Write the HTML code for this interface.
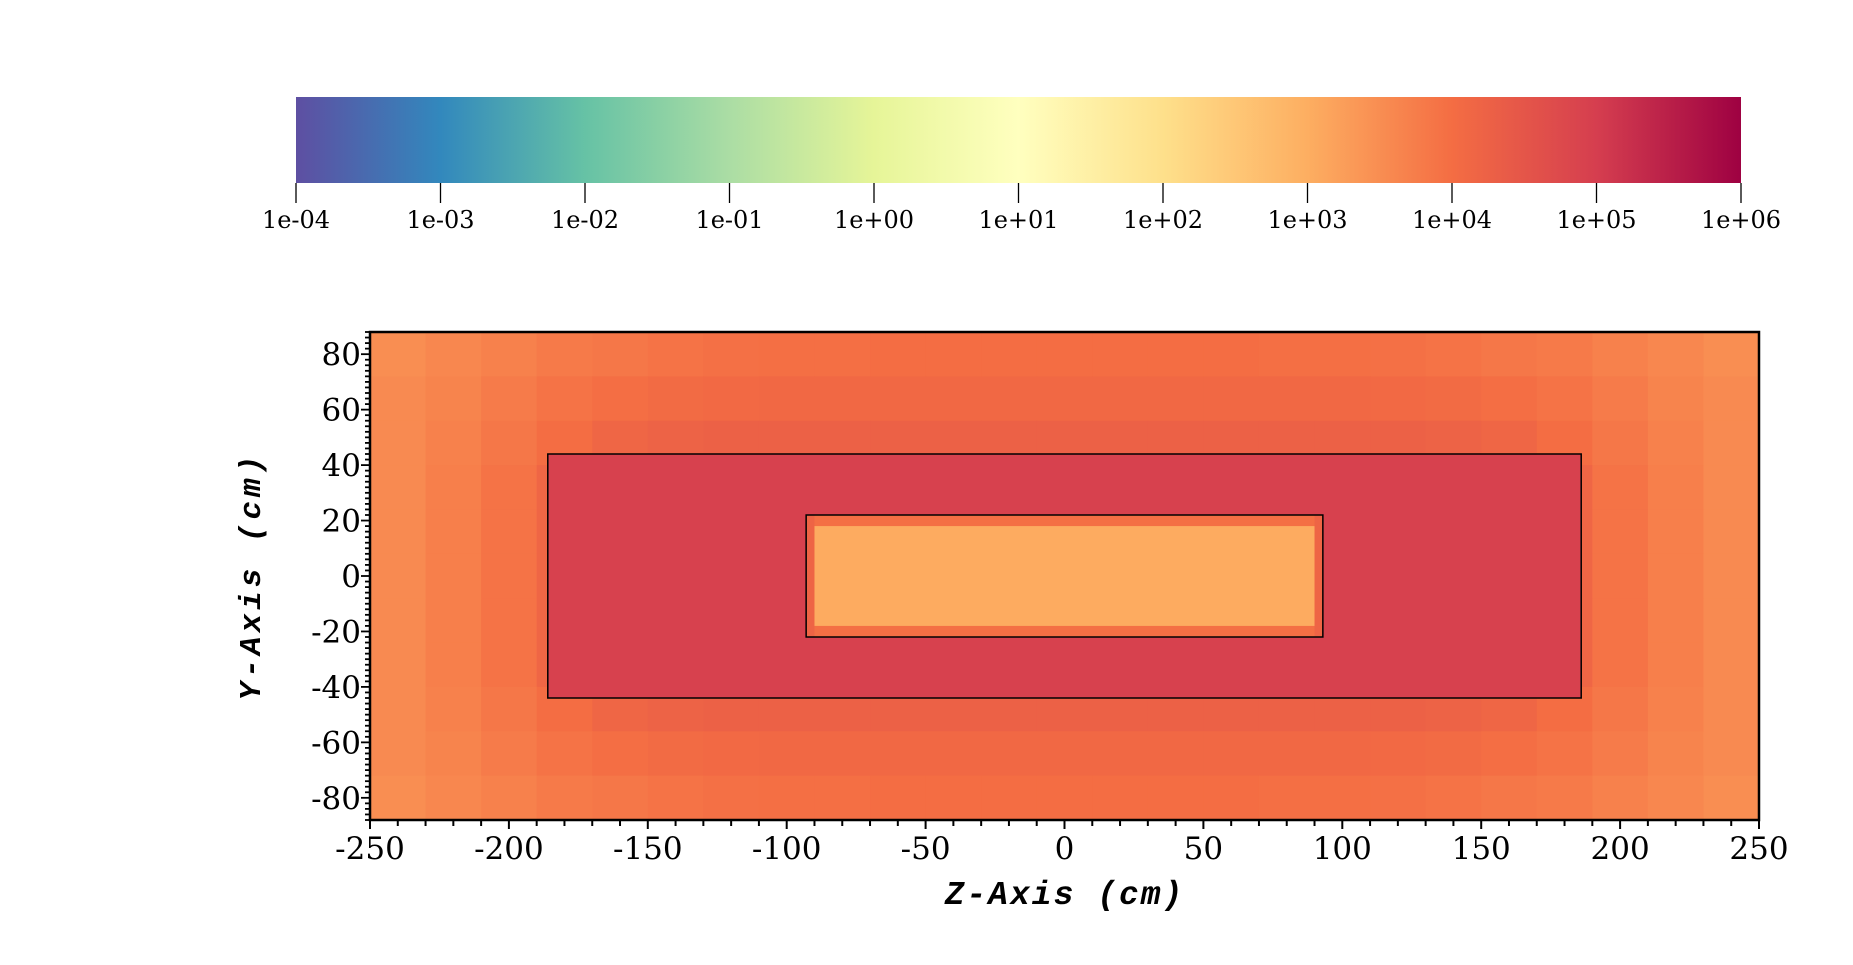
<!DOCTYPE html>
<html><head><meta charset="utf-8"><style>
html,body{margin:0;padding:0;background:#fff;}
svg{display:block;}
.tk{font-family:"DejaVu Serif","Liberation Serif",serif;fill:#000;}
.ttl{font-family:"Liberation Mono",monospace;font-weight:bold;font-style:italic;fill:#000;}
</style></head><body>
<svg id="chart" width="1853" height="965" viewBox="0 0 1853 965" xmlns="http://www.w3.org/2000/svg">
<defs><linearGradient id="cbg" x1="0" x2="1" y1="0" y2="0"></linearGradient></defs>
<g id="colorbar"></g>
<g id="heat"></g>
<g id="axes"></g>
</svg>
<script>
// ---- data ----
const cbTicks = ["1e-04","1e-03","1e-02","1e-01","1e+00","1e+01","1e+02","1e+03","1e+04","1e+05","1e+06"];
const xTicks = [-250,-200,-150,-100,-50,0,50,100,150,200,250];
const yTicks = [80,60,40,20,0,-20,-40,-60,-80];
const zCenters = [-240,-220,-200,-180,-160,-140,-120,-100,-80,-60,-40,-20,0,20,40,60,80,100,120,140,160,180,200,220,240];
const yCenters = [80,64,48,32,16,0,-16,-32,-48,-64,-80];
// log10 flux values of background grid (rows = yCenters, cols = zCenters)
const row80 = [3.5,3.6,3.7,3.8,3.85,3.9,3.95,3.97,3.97,4.0,4.0,4.0,4.0,4.0,4.0,4.0,3.97,3.97,3.95,3.9,3.85,3.8,3.7,3.6,3.5];
const row64 = [3.55,3.65,3.78,3.9,3.98,4.05,4.08,4.1,4.1,4.1,4.1,4.1,4.1,4.1,4.1,4.1,4.1,4.1,4.08,4.05,3.98,3.9,3.78,3.65,3.55];
const row48 = [3.55,3.7,3.85,4.0,4.15,4.22,4.25,4.25,4.25,4.25,4.25,4.25,4.25,4.25,4.25,4.25,4.25,4.25,4.25,4.22,4.15,4.0,3.85,3.7,3.55];
const rowMid = [3.55,3.72,3.9,4.15,4.3,4.9,4.9,4.9,4.9,4.9,4.9,4.9,4.9,4.9,4.9,4.9,4.9,4.9,4.9,4.9,4.3,4.15,3.9,3.72,3.55];
const grid = [row80,row64,row48,rowMid,rowMid,rowMid,rowMid,rowMid,row48,row64,row80];
// regions: [z0,z1,y0,y1,log value]
const outerRegion = [-186,186,-44,44,4.93];
const bandRegion = [-93,93,-22,22,3.97];
const stripRegion = [-93,-90,-22,22,4.2];
const stripRegionR = [90,93,-22,22,4.2];
const coreRegion = [-90,90,-18,18,3.05];
const outerBox = [-186,186,-44,44];
const innerBox = [-93,93,-22,22];

// ---- scales ----
const PL=370, PR=1759, PT=332, PB=820;
const zMin=-250,zMax=250,yMin=-88,yMax=88;
const X = z => PL + (z-zMin)/(zMax-zMin)*(PR-PL);
const Y = y => PB - (y-yMin)/(yMax-yMin)*(PB-PT);
const CBL=296, CBR=1741, CBT=97, CBB=183;
const spectral = ["#5e4fa2","#3288bd","#66c2a5","#abdda4","#e6f598","#ffffbf","#fee08b","#fdae61","#f46d43","#d53e4f","#9e0142"];
function hex(c){return [1,3,5].map(i=>parseInt(c.substr(i,2),16));}
function cmap(v){ let t=(v+4)/10; t=Math.max(0,Math.min(1,t)); const f=t*10; const i=Math.min(9,Math.floor(f)); const r=f-i;
  const a=hex(spectral[i]), b=hex(spectral[i+1]); return "rgb("+a.map((x,k)=>Math.round(x+(b[k]-x)*r)).join(",")+")"; }
const NS="http://www.w3.org/2000/svg";
function mk(tag,attrs,parent){const e=document.createElementNS(NS,tag);for(const k in attrs)e.setAttribute(k,attrs[k]);parent.appendChild(e);return e;}

// ---- colorbar ----
const grad=document.getElementById('cbg');
spectral.forEach((c,i)=>mk('stop',{offset:(i*10)+'%','stop-color':c},grad));
const cb=document.getElementById('colorbar');
const bar=mk('rect',{x:CBL,y:CBT,width:CBR-CBL,height:CBB-CBT,fill:'url(#cbg)'},cb);


cbTicks.forEach((t,i)=>{
  const x=CBL+i*(CBR-CBL)/(cbTicks.length-1);
  const l=mk('line',{x1:x,x2:x,y1:CBB,y2:203,stroke:'#000','stroke-width':1.3},cb);
  
  
  const tx=mk('text',{x:x,y:228,'text-anchor':'middle','font-size':24,class:'tk'},cb);
  tx.textContent=t;
  
  
});

// ---- heatmap ----
const heat=document.getElementById('heat');
grid.forEach((row,ri)=>{
  const yc=yCenters[ri];
  row.forEach((v,ci)=>{
    const zc=zCenters[ci];
    const x0=X(zc-10), x1=X(zc+10), y0=Y(Math.min(88,yc+8)), y1=Y(Math.max(-88,yc-8));
    const r=mk('rect',{x:x0,y:y0,width:x1-x0+0.6,height:y1-y0+0.6,fill:cmap(v)},heat);
    
    
  });
});
[outerRegion,bandRegion,stripRegion,stripRegionR,coreRegion].forEach((g,i)=>{
  const r=mk('rect',{x:X(g[0]),y:Y(g[3]),width:X(g[1])-X(g[0]),height:Y(g[2])-Y(g[3]),fill:cmap(g[4])},heat);
  
  
});
[outerBox,innerBox].forEach((b,i)=>{
  const r=mk('rect',{x:X(b[0]),y:Y(b[3]),width:X(b[1])-X(b[0]),height:Y(b[2])-Y(b[3]),fill:'none',stroke:'#000','stroke-width':1.5},heat);
  
  
});

// ---- axes ----
const ax=document.getElementById('axes');
const frame=mk('rect',{x:PL,y:PT,width:PR-PL,height:PB-PT,fill:'none',stroke:'#000','stroke-width':2.5},ax);


for(let z=zMin;z<=zMax;z+=10){
  const maj=(z%50===0);
  const l=mk('line',{x1:X(z),x2:X(z),y1:PB,y2:PB+(maj?9:6),stroke:'#000','stroke-width':2},ax);
  
  
}
for(let y=-88;y<=88;y+=2){
  const maj=(y%20===0);
  const l=mk('line',{x1:PL,x2:PL-(maj?9:5),y1:Y(y),y2:Y(y),stroke:'#000','stroke-width':1.8},ax);
  
  
}
xTicks.forEach(t=>{
  const tx=mk('text',{x:X(t),y:859,'text-anchor':'middle','font-size':31,class:'tk'},ax);
  tx.textContent=t;
  
  
});
yTicks.forEach(t=>{
  const tx=mk('text',{x:361,y:Y(t)+11,'text-anchor':'end','font-size':31,class:'tk'},ax);
  tx.textContent=t;
  
  
});
const xt=mk('text',{x:X(0),y:904,'text-anchor':'middle','font-size':33,'letter-spacing':2,class:'ttl'},ax);
xt.textContent='Z-Axis (cm)';


const yt=mk('text',{x:0,y:0,'text-anchor':'middle','font-size':31,'letter-spacing':4,class:'ttl',transform:'translate(260,'+Y(0)+') rotate(-90)'},ax);
yt.textContent='Y-Axis (cm)';


</script>
</body></html>
